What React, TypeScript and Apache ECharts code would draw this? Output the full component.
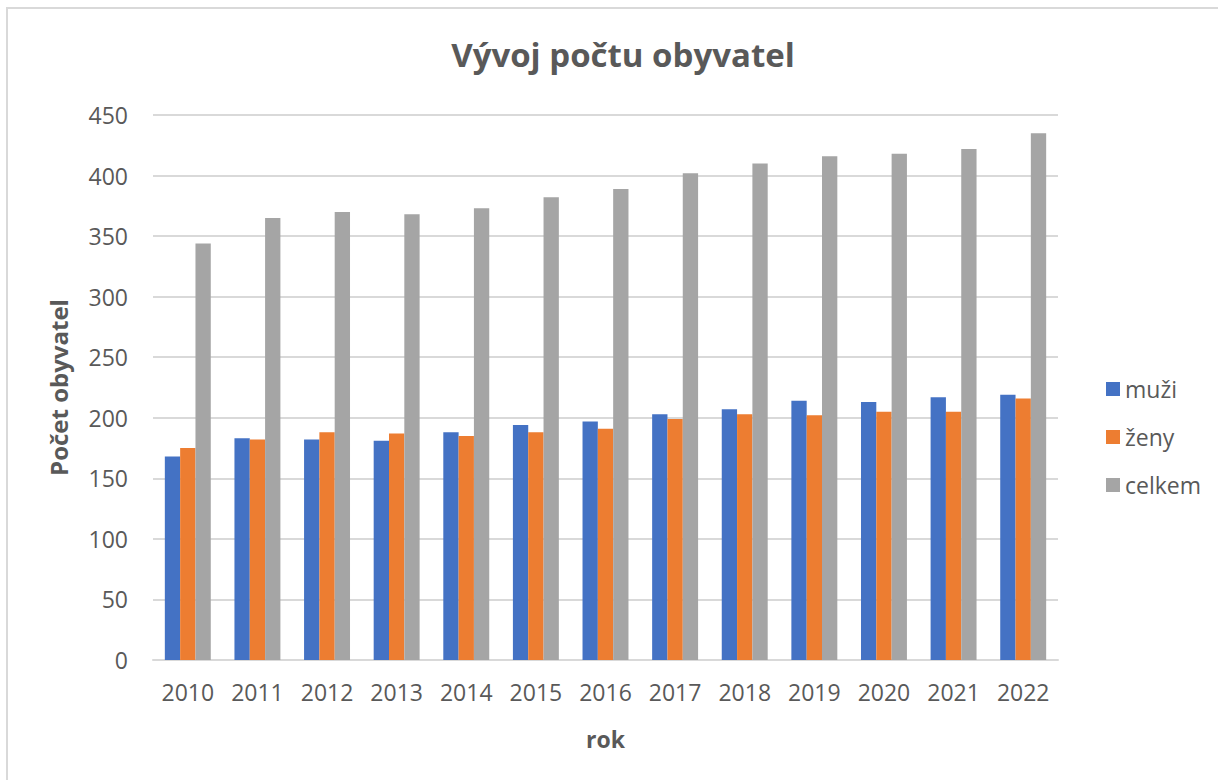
import React, { useEffect, useRef } from "react";
import * as echarts from "echarts";

const years = ["2010","2011","2012","2013","2014","2015","2016","2017","2018","2019","2020","2021","2022"];
const muzi = [168, 183, 182, 181, 188, 194, 197, 203, 207, 214, 213, 217, 219];
const zeny = [175, 182, 188, 187, 185, 188, 191, 199, 203, 202, 205, 205, 216];
const celkem = [344, 365, 370, 368, 373, 382, 389, 402, 410, 416, 418, 422, 435];
const seriesNames = ["muži", "ženy", "celkem"];
const colors = ["#4472C4", "#ED7D31", "#A5A5A5"];

const FONT = "'Open Sans', 'Noto Sans', sans-serif";
const TEXT = "#595959";

export default function App() {
  const ref = useRef<HTMLDivElement>(null);
  useEffect(() => {
    document.body.style.margin = "0";
    const chart = echarts.init(ref.current!, undefined, { renderer: "svg" });
    const data = [muzi, zeny, celkem];
    chart.setOption({
      animation: false,
      backgroundColor: "#ffffff",
      textStyle: { fontFamily: FONT },
      title: {
        text: "Vývoj počtu obyvatel",
        left: 618,
        top: 33,
        textAlign: "center",
        textStyle: { fontFamily: FONT, fontSize: 33, fontWeight: "bold", color: TEXT },
      },
      graphic: [
        {
          type: "rect",
          shape: { x: 7, y: 8, width: 1240, height: 800 },
          style: { fill: "none", stroke: "#D9D9D9", lineWidth: 2 },
          silent: true,
        },
      ],
      legend: {
        orient: "vertical",
        left: 1101,
        top: 372,
        icon: "rect",
        itemWidth: 14,
        itemHeight: 14,
        itemGap: 24,
        data: seriesNames,
        textStyle: { fontFamily: FONT, fontSize: 23, color: TEXT, lineHeight: 24 },
      },
      grid: { left: 153, right: 160, top: 115, bottom: 120, containLabel: false },
      xAxis: {
        type: "category",
        data: years,
        name: "rok",
        nameLocation: "middle",
        nameGap: 67,
        nameTextStyle: { fontFamily: FONT, fontSize: 23, fontWeight: "bold", color: TEXT },
        axisTick: { show: false },
        axisLine: { lineStyle: { color: "#D9D9D9", width: 2 } },
        axisLabel: { fontFamily: FONT, fontSize: 23, color: TEXT, margin: 20 },
      },
      yAxis: {
        type: "value",
        min: 0,
        max: 450,
        interval: 50,
        name: "Počet obyvatel",
        nameLocation: "middle",
        nameGap: 83,
        nameTextStyle: { fontFamily: FONT, fontSize: 24, fontWeight: "bold", color: TEXT },
        axisLine: { show: false },
        axisTick: { show: false },
        axisLabel: { fontFamily: FONT, fontSize: 23, color: TEXT, margin: 25 },
        splitLine: { lineStyle: { color: "#D9D9D9", width: 2 } },
      },
      series: seriesNames.map((n, i) => ({
        name: n,
        type: "bar",
        data: data[i],
        barGap: "0%",
        barCategoryGap: "34%",
        itemStyle: { color: colors[i] },
      })),
    });
    return () => chart.dispose();
  }, []);
  return <div ref={ref} style={{ width: 1218, height: 780 }} />;
}
